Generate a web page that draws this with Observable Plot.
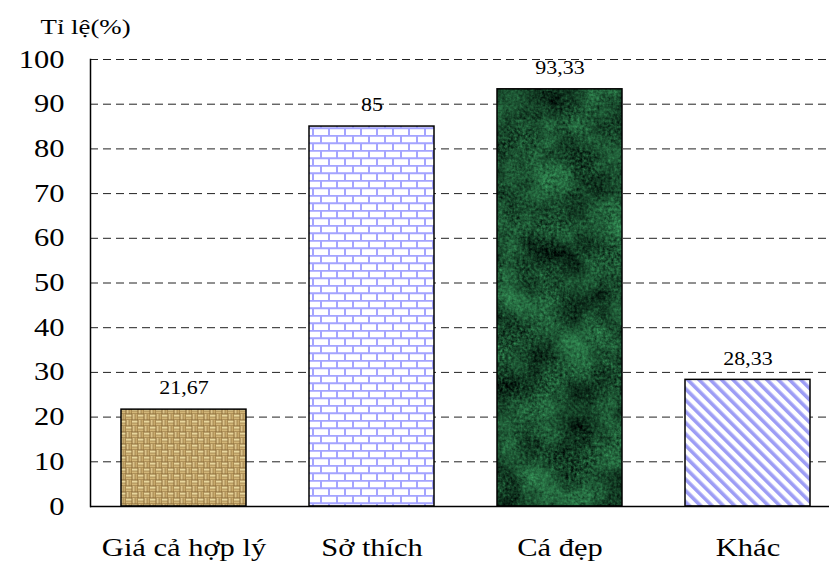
<!DOCTYPE html>
<html><head><meta charset="utf-8">
<script src="https://cdn.jsdelivr.net/npm/d3@7"></script>
<script src="https://cdn.jsdelivr.net/npm/@observablehq/plot@0.6"></script>
<style>
body{margin:0;background:#fff}
svg{font-family:"Liberation Serif","Times New Roman",serif}
</style>
</head><body><div id="chart"></div>
<script>
const categories = ["Giá cả hợp lý", "Sở thích", "Cá đẹp", "Khác"];
const values = [21.67, 85, 93.33, 28.33];
const fills = ["url(#burlap)", "url(#brick)", "url(#marble)", "url(#stripes)"];
const yTicks = [0, 10, 20, 30, 40, 50, 60, 70, 80, 90, 100];
const axisTitle = "Tỉ lệ(%)";

const data = categories.map((c, i) => ({category: c, value: values[i], fill: fills[i]}));
const fmt = v => String(v).replace(".", ",");

const chart = Plot.plot({
  width: 829,
  height: 563,
  marginLeft: 90,
  marginRight: 0,
  marginTop: 59,
  marginBottom: 57,
  style: {fontFamily: "'Liberation Serif', 'Times New Roman', serif", color: "#000", background: "#fff"},
  x: {domain: categories, range: [90, 842], paddingInner: 0.335, paddingOuter: 0.1675},
  y: {domain: [0, 100]},
  marks: [
    Plot.ruleY(yTicks.filter(t => t > 0), {stroke: "#222", strokeWidth: 1, strokeDasharray: "8,5"}),
    ...data.map(d => Plot.barY([d], {x: "category", y: "value", fill: d.fill, stroke: "#000", strokeWidth: 1.5})),
    Plot.ruleY([0], {stroke: "#000", strokeWidth: 1.5}),
    Plot.frame({anchor: "left", stroke: "#000", strokeWidth: 1.5}),
    Plot.axisY({ticks: yTicks, tickSize: 0, tickPadding: 26, fontSize: 25, label: null}),
    Plot.axisX({tickSize: 0, tickPadding: 32, fontSize: 25, label: null}),
    Plot.text(data, {x: "category", y: "value", text: d => fmt(d.value), dy: -21, fontSize: 18, fill: "#000"}),
    Plot.text([axisTitle], {frameAnchor: "top-left", dx: -50, dy: -41, textAnchor: "start", fontSize: 22, fill: "#000"})
  ]
});

// pattern definitions
const ns = "http://www.w3.org/2000/svg";
const defs = document.createElementNS(ns, "defs");
defs.innerHTML = `
<pattern id="burlap" patternUnits="userSpaceOnUse" width="12" height="12">
  <rect width="12" height="12" fill="#8a6a38"/>
  <rect x="0" y="0.5" width="5.5" height="2.2" fill="#e8d69c"/>
  <rect x="0" y="3.3" width="5.5" height="2.2" fill="#d2b678"/>
  <rect x="6" y="6.5" width="5.5" height="2.2" fill="#e8d69c"/>
  <rect x="6" y="9.3" width="5.5" height="2.2" fill="#d2b678"/>
  <rect x="6.5" y="0" width="2.2" height="5.5" fill="#dcc48a"/>
  <rect x="9.3" y="0" width="2.2" height="5.5" fill="#c8aa6c"/>
  <rect x="0.5" y="6" width="2.2" height="5.5" fill="#dcc48a"/>
  <rect x="3.3" y="6" width="2.2" height="5.5" fill="#c8aa6c"/>
</pattern>
<pattern id="brick" patternUnits="userSpaceOnUse" width="16" height="15">
  <rect width="16" height="15" fill="#fff"/>
  <path d="M0 0.75H16M0 8.25H16M1 0V7.5M9 7.5V15" stroke="#a4a4ff" stroke-width="2" fill="none"/>
</pattern>
<filter id="marbleFx" x="0" y="0" width="1" height="1" color-interpolation-filters="sRGB">
  <feTurbulence type="fractalNoise" baseFrequency="0.025" numOctaves="4" seed="7" result="big"/>
  <feTurbulence type="fractalNoise" baseFrequency="0.35" numOctaves="2" seed="3" result="fine"/>
  <feComposite in="big" in2="fine" operator="arithmetic" k1="0" k2="0.55" k3="0.45" k4="0" result="mix"/>
  <feColorMatrix in="mix" type="matrix" values="0.4 0 0 0 -0.1  1.0 0 0 0 -0.2  0.6 0 0 0 -0.12  0 0 0 0 1"/>
</filter>
<pattern id="marble" patternUnits="userSpaceOnUse" width="900" height="600">
  <rect width="900" height="600" fill="#1d5a33" filter="url(#marbleFx)"/>
</pattern>
<pattern id="stripes" patternUnits="userSpaceOnUse" width="8" height="8" patternTransform="rotate(-45)">
  <rect width="8" height="8" fill="#fff"/>
  <rect x="0" y="0" width="3.6" height="8" fill="#9d9df5"/>
</pattern>`;
chart.insertBefore(defs, chart.firstChild);

// horizontally stretched serif text as in the reference
chart.querySelectorAll("text").forEach(t => {
  const tr = t.getAttribute("transform");
  t.setAttribute("transform", (tr ? tr + " " : "") + "scale(1.22,1)");
});

document.getElementById("chart").appendChild(chart);
</script>
</body></html>
